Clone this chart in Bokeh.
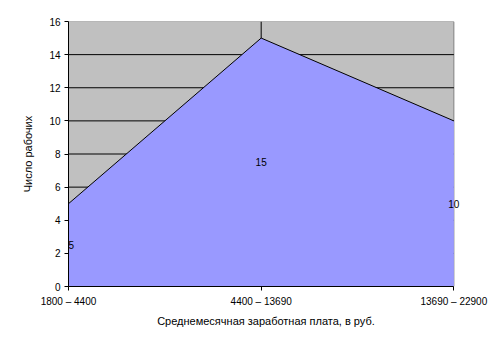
from bokeh.plotting import figure
from bokeh.models import FixedTicker, Range1d, ColumnDataSource, Label
from bokeh.embed import file_html
from bokeh.resources import INLINE

categories = ["1800 – 4400", "4400 – 13690", "13690 – 22900"]
workers = [5, 15, 10]
y_ticks = [0, 2, 4, 6, 8, 10, 12, 14, 16]

xs = list(range(len(categories)))
x_last = len(categories) - 1
y_max = max(y_ticks)
pad = 0.05
FONT = "Liberation Sans"

p = figure(width=501, height=343, output_backend="svg", toolbar_location=None,
           x_range=Range1d(0, x_last + pad), y_range=Range1d(0, y_max),
           min_border_left=68, min_border_right=38, min_border_top=21, min_border_bottom=57)
p.background_fill_color = "white"
p.border_fill_color = "white"
p.outline_line_color = None
p.xgrid.visible = False
p.ygrid.visible = False

# plot-area background with grey border
p.quad(left=[0], right=[x_last], bottom=[0], top=[y_max],
       fill_color="#C0C0C0", line_color="#808080", line_width=1)
# gridlines (drawn beneath the area)
inner_y = y_ticks[1:-1]
p.segment(x0=[0] * len(inner_y), x1=[x_last] * len(inner_y), y0=inner_y, y1=inner_y,
          line_color="black", line_width=1)
inner_x = xs[1:-1]
p.segment(x0=inner_x, x1=inner_x, y0=[0] * len(inner_x), y1=[y_max] * len(inner_x),
          line_color="black", line_width=1)

src = ColumnDataSource(dict(x=xs, y=workers))
p.varea(x="x", y1=0, y2="y", source=src, fill_color="#9999FF", fill_alpha=1.0)
p.line(x="x", y="y", source=src, line_color="black", line_width=1)
for xi, v in zip(xs, workers):
    p.add_layout(Label(x=xi, y=v / 2, text=str(v),
                       text_align="left" if xi == 0 else "center",
                       text_baseline="middle", text_font=FONT, text_font_size="10px",
                       text_color="black"))

p.xaxis.ticker = FixedTicker(ticks=xs)
p.xaxis.major_label_overrides = {i: c for i, c in enumerate(categories)}
p.xaxis.bounds = (0, x_last)
p.yaxis.ticker = FixedTicker(ticks=y_ticks)

for ax in (p.xaxis[0], p.yaxis[0]):
    ax.axis_line_color = "black"
    ax.major_tick_line_color = "black"
    ax.major_tick_in = 0
    ax.major_tick_out = 4
    ax.minor_tick_line_color = None
    ax.major_label_text_font = FONT
    ax.major_label_text_font_size = "10px"
    ax.major_label_text_color = "black"
    ax.axis_label_text_font = FONT
    ax.axis_label_text_font_size = "11px"
    ax.axis_label_text_font_style = "normal"
    ax.axis_label_text_color = "black"

p.xaxis.axis_label = "Среднемесячная заработная плата, в руб."
p.yaxis.axis_label = "Число рабочих"
p.xaxis.major_label_standoff = 5
p.xaxis.axis_label_standoff = 5
p.yaxis.major_label_standoff = 4
p.yaxis.axis_label_standoff = 12

open("out.html", "w").write(file_html(p, INLINE))
